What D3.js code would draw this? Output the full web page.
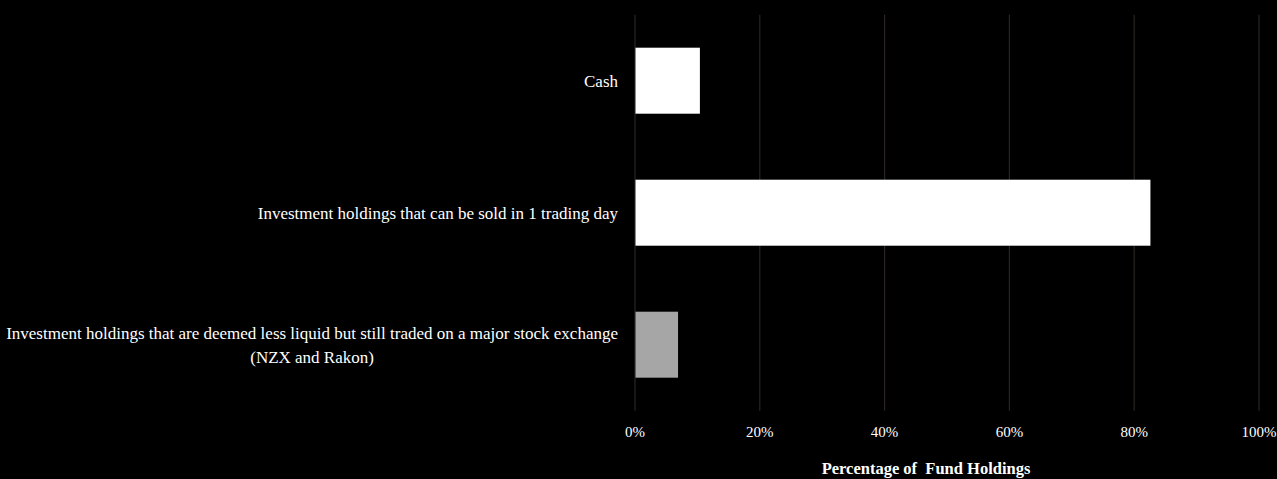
<!DOCTYPE html>
<html><head><meta charset="utf-8">
<script src="https://cdn.jsdelivr.net/npm/d3@7"></script>
<style>html,body{margin:0;padding:0;background:#000;overflow:hidden}</style>
</head><body>
<svg id="c" width="1277" height="479"></svg>
<script>
const categories = [
  ["Cash"],
  ["Investment holdings that can be sold in 1 trading day"],
  ["Investment holdings that are deemed less liquid but still traded on a major stock exchange", "(NZX and Rakon)"]
];
const values = [0.104, 0.826, 0.069];
const barColors = ["#ffffff", "#ffffff", "#a6a6a6"];
const tickValues = [0, 0.2, 0.4, 0.6, 0.8, 1.0];
const axisTitle = "Percentage of  Fund Holdings";

const svg = d3.select("#c");
svg.append("rect").attr("width",1277).attr("height",479).attr("fill","#000");
const font = "'Liberation Serif', 'DejaVu Serif', serif";

const x = d3.scaleLinear().domain([0,1]).range([635,1259]);
const y = d3.scaleBand().domain(d3.range(categories.length)).range([14.7,410.7]).paddingInner(0.5).paddingOuter(0.25);

// gridlines
svg.append("g").selectAll("line").data(tickValues).join("line")
  .attr("x1",d=>x(d)).attr("x2",d=>x(d))
  .attr("y1",14.7).attr("y2",410.7)
  .attr("stroke","#2a2522").attr("stroke-width",1.2);

// bars
svg.append("g").selectAll("rect").data(values).join("rect")
  .attr("x",x(0)+0.5).attr("y",(d,i)=>y(i))
  .attr("width",d=>x(d)-x(0)-0.5).attr("height",y.bandwidth())
  .attr("fill",(d,i)=>barColors[i]);

// category labels
const lh = 24;
categories.forEach((lines,i)=>{
  const cy = y(i)+y.bandwidth()/2;
  const g = svg.append("g");
  const ts = lines.map((t,k)=>g.append("text").text(t)
    .attr("font-family",font).attr("font-size",17).attr("fill","#fff")
    .attr("text-anchor","middle")
    .attr("y", cy + (k-(lines.length-1)/2)*lh).attr("dy","0.35em"));
  const maxW = d3.max(ts, t=>t.node().getComputedTextLength());
  ts.forEach(t=>t.attr("x", 618 - maxW/2));
});

// tick labels
svg.append("g").selectAll("text").data(tickValues).join("text")
  .attr("x",d=>x(d)).attr("y",437)
  .attr("text-anchor","middle").attr("font-family",font).attr("font-size",15)
  .attr("fill","#fff").text(d3.format(".0%"));

// axis title
svg.append("text").attr("x",926).attr("y",474)
  .attr("text-anchor","middle").attr("font-family",font).attr("font-size",16.5)
  .attr("font-weight","bold").attr("fill","#fff").attr("xml:space","preserve")
  .style("white-space","pre").text(axisTitle);
</script>
</body></html>
